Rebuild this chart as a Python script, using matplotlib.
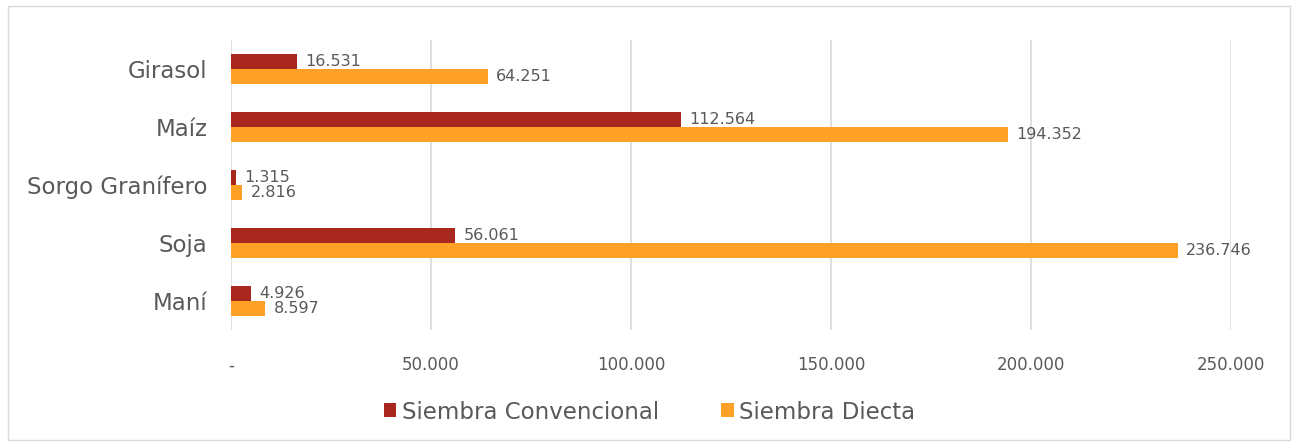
import matplotlib.pyplot as plt
import numpy as np
from matplotlib.patches import Rectangle
from matplotlib.ticker import FuncFormatter

categories = ['Girasol', 'Maíz', 'Sorgo Granífero', 'Soja', 'Maní']
convencional = [16531, 112564, 1315, 56061, 4926]
directa = [64251, 194352, 2816, 236746, 8597]
series_names = ['Siembra Convencional', 'Siembra Diecta']

red = '#A8271E'
orange = '#FFA126'
text_gray = '#595959'

plt.rcParams['font.family'] = ['DejaVu Sans']

fig = plt.figure(figsize=(12.99, 4.44), dpi=100)
ax = fig.add_axes([231 / 1299, 1 - 330 / 444, 1000 / 1299, 290 / 444])

# outer border like the original chart area
fig.patches.append(Rectangle((8 / 1299, 4 / 444), 1282 / 1299, 434 / 444,
                             transform=fig.transFigure, fill=False,
                             edgecolor='#D9D9D9', linewidth=1))

y = np.arange(len(categories))
h = 0.26
ax.barh(y - h / 2, convencional, height=h, color=red, label=series_names[0], zorder=2)
ax.barh(y + h / 2, directa, height=h, color=orange, label=series_names[1], zorder=2)


def fmt(v):
    return f'{v:,.0f}'.replace(',', '.')


for yi, v in zip(y, convencional):
    ax.annotate(fmt(v), (v, yi - h / 2), xytext=(6, 0), textcoords='offset points',
                va='center', ha='left', fontsize=11.5, color=text_gray, zorder=1)
for yi, v in zip(y, directa):
    ax.annotate(fmt(v), (v, yi + h / 2), xytext=(6, 0), textcoords='offset points',
                va='center', ha='left', fontsize=11.5, color=text_gray, zorder=3,
                annotation_clip=False)

ax.set_xlim(0, 250000)
ax.set_ylim(len(categories) - 0.5, -0.5)
ax.set_xticks(np.arange(0, 250001, 50000))
ax.xaxis.set_major_formatter(FuncFormatter(lambda v, p: '-' if v == 0 else fmt(v)))
ax.set_yticks(y)
ax.set_yticklabels(categories)

ax.grid(axis='x', color='#D9D9D9', linewidth=1.2, zorder=0)
for s in ax.spines.values():
    s.set_visible(False)
ax.tick_params(axis='x', length=0, pad=19, labelsize=12, labelcolor=text_gray)
ax.tick_params(axis='y', length=0, pad=17, labelsize=16.5, labelcolor=text_gray)

fig.legend(loc='center', bbox_to_anchor=(0.5, 1 - 412 / 444), ncol=2, frameon=False,
           fontsize=16.5, labelcolor=text_gray, handlelength=0.55, handleheight=0.55,
           handletextpad=0.25, columnspacing=2.7)

fig.savefig('out.png', dpi=100)
